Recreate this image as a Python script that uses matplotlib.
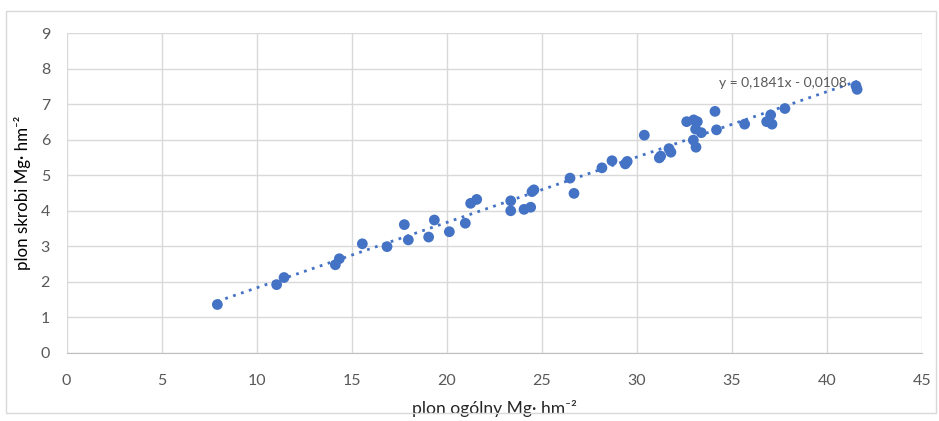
#!/usr/bin/env python
# scatter of starch yield vs total yield with linear trendline
import numpy as np
import matplotlib
matplotlib.use('Agg')
import matplotlib.pyplot as plt
from matplotlib.patches import Rectangle

plt.rcParams['font.family'] = ['Lato', 'DejaVu Sans']

# plon ogolny (x) / plon skrobi (y)
plon_ogolny = [7.93, 11.05, 11.44, 14.14, 14.35, 15.56, 16.86, 17.77, 17.98, 19.05,
               19.35, 20.14, 20.98, 21.26, 21.58, 23.37, 23.37, 24.07, 24.42, 24.49,
               24.59, 26.49, 26.70, 28.17, 28.70, 29.40, 29.50, 30.40, 31.19, 31.26,
               31.70, 31.80, 32.63, 33.00, 33.19, 33.10, 33.40, 32.98, 33.12, 34.12,
               34.20, 35.68, 36.84, 37.05, 37.12, 37.80, 41.54, 41.60]
plon_skrobi = [1.36, 1.92, 2.12, 2.48, 2.65, 3.07, 2.99, 3.61, 3.18, 3.26,
               3.74, 3.41, 3.65, 4.21, 4.32, 4.28, 4.00, 4.04, 4.10, 4.54,
               4.59, 4.92, 4.49, 5.21, 5.41, 5.32, 5.39, 6.13, 5.49, 5.54,
               5.75, 5.65, 6.51, 6.56, 6.51, 6.30, 6.20, 5.99, 5.79, 6.80,
               6.28, 6.44, 6.51, 6.70, 6.44, 6.88, 7.52, 7.42]

slope = 0.1841
intercept = -0.0108

blue = '#4472C4'
grey = '#595959'

fig = plt.figure(figsize=(9.39, 4.21), dpi=100)
ax = fig.add_axes([0.071, 0.162, 0.9106, 0.759])

# trendline (dotted)
xt = np.array([min(plon_ogolny), max(plon_ogolny)])
ax.plot(xt, slope * xt + intercept, color=blue, lw=2, ls=(0, (1, 2)), zorder=2)

ax.scatter(plon_ogolny, plon_skrobi, s=60, color=blue, edgecolors='none', zorder=3)

ax.text(37.7, 7.6, 'y = 0,1841x - 0,0108', color=grey, fontsize=10,
        ha='center', va='center', zorder=4)

ax.set_xlim(0, 45)
ax.set_ylim(0, 9)
ax.set_xticks(np.arange(0, 46, 5))
ax.set_yticks(np.arange(0, 10, 1))
ax.grid(True, color='#D9D9D9', lw=1)
ax.set_axisbelow(True)
for sp in ['top', 'right', 'left']:
    ax.spines[sp].set_visible(False)
ax.spines['bottom'].set_color('#BFBFBF')
ax.tick_params(length=0, colors=grey, labelsize=11.5)
ax.tick_params(axis='x', pad=15)
ax.tick_params(axis='y', pad=12)

ax.set_xlabel('plon ogólny Mg· hm⁻²', fontsize=12.6, color='#262626', labelpad=9)
ax.set_ylabel('plon skrobi Mg· hm⁻²', fontsize=12.2, color='black', labelpad=7)

# outer chart border
fig.patches.append(Rectangle((6 / 939, 8 / 421), 930 / 939, 402 / 421,
                             transform=fig.transFigure, fill=False,
                             edgecolor='#D9D9D9', lw=1))

plt.savefig('out.png', dpi=100)
